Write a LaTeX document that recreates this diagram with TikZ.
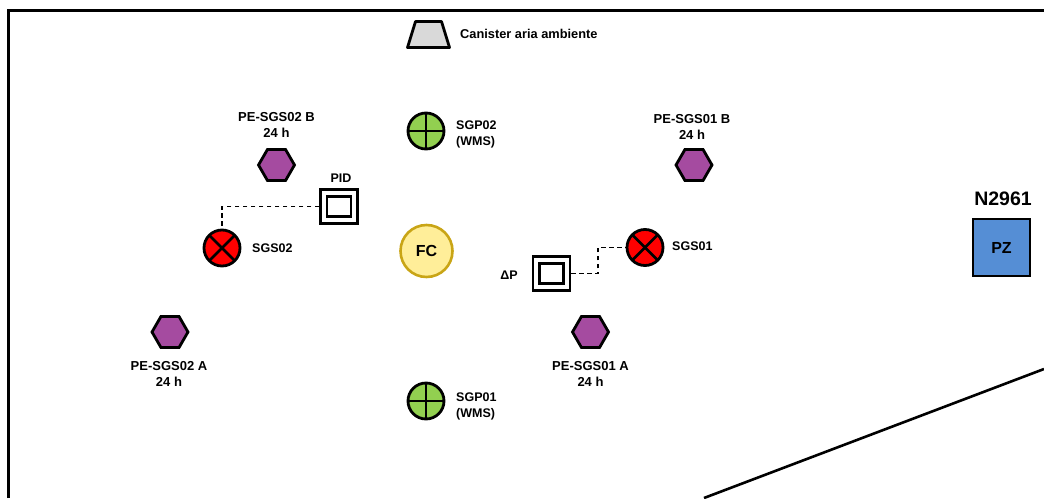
\documentclass[tikz,border=0pt]{standalone}
\usepackage{fontspec}
\setmainfont{Liberation Sans}
\usetikzlibrary{shapes.geometric}
\definecolor{hexfill}{HTML}{A54BA0}
\definecolor{xred}{HTML}{FF0000}
\definecolor{sgpgreen}{HTML}{92D050}
\definecolor{fcfill}{HTML}{FFEE99}
\definecolor{fcline}{HTML}{C9A516}
\definecolor{pzblue}{HTML}{558ED5}
\definecolor{cangray}{HTML}{D9D9D9}
\tikzset{
  lbl/.style={font=\fontsize{12.5}{16}\selectfont\bfseries,align=center,inner sep=0pt},
  lbll/.style={lbl,align=left,anchor=west},
  pelbl/.style={lbl,font=\fontsize{13}{16}\selectfont\bfseries},
  hexa/.style={draw,line width=2.8pt,fill=hexfill,regular polygon,regular polygon sides=6,minimum size=36pt,inner sep=0pt},
  xcirc/.style={draw,line width=2.8pt,circle,fill=xred,minimum size=36pt,inner sep=0pt,
    path picture={\draw[line width=2.8pt] (path picture bounding box.center)++(45:18pt)--++(225:36pt);
    \draw[line width=2.8pt] (path picture bounding box.center)++(135:18pt)--++(315:36pt);}},
  pcirc/.style={draw,line width=2.8pt,circle,fill=sgpgreen,minimum size=36pt,inner sep=0pt,
    path picture={\draw[line width=2.8pt] (path picture bounding box.north)--(path picture bounding box.south);
    \draw[line width=2.8pt] (path picture bounding box.west)--(path picture bounding box.east);}},
  outerbox/.style={draw,line width=2.05pt,fill=white,minimum width=37pt,minimum height=34pt,inner sep=0pt},
  innerbox/.style={draw,line width=2.05pt,fill=white,minimum width=24pt,minimum height=20pt,inner sep=0pt},
  link/.style={line width=1.4pt,dash pattern=on 4.5pt off 3.5pt},
  border/.style={line width=3pt}
}
\begin{document}
\begin{tikzpicture}[x=1pt,y=-1pt]
\useasboundingbox (0,0) rectangle (1044,498);
\coordinate (fb) at (8.5,498);
\coordinate (fk) at (8.5,10.5);
\coordinate (fr) at (1044,10.5);
\draw[border,line join=miter] (fb)--(fk)--(fr);
\coordinate (la) at (704,498);
\coordinate (lb) at (1044,369);
\draw[line width=2.6pt] (la)--(lb);

\draw[line width=2.8pt,fill=cangray,line join=round] (415.5,21.5)--(441.5,21.5)--(449.5,47.5)--(407.5,47.5)--cycle;
\node[lbl,anchor=west,font=\fontsize{12.8}{15}\selectfont\bfseries] (canl) at (460,33.5) {Canister aria ambiente};

\node[pcirc] (sgp2) at (426,131) {};
\node[lbll] (sgp2l) at (456,134) {SGP02\\(WMS)};
\node[pcirc] (sgp1) at (426,401) {};
\node[lbll] (sgp1l) at (456,406) {SGP01\\(WMS)};

\node[hexa] (h2b) at (276.5,165) {};
\node[pelbl] (h2bl) at (276.5,124.5) {PE-SGS02 B\\24 h};
\node[hexa] (h1b) at (694,165) {};
\node[pelbl] (h1bl) at (692,126.5) {PE-SGS01 B\\24 h};
\node[hexa] (h2a) at (170,332) {};
\node[pelbl] (h2al) at (169,373.5) {PE-SGS02 A\\24 h};
\node[hexa] (h1a) at (590.5,332) {};
\node[pelbl] (h1al) at (590.5,373.5) {PE-SGS01 A\\24 h};

\node[xcirc] (s2) at (222,248) {};
\node[lbl,anchor=west] (s2l) at (252,248.5) {SGS02};
\node[xcirc] (s1) at (645,247.5) {};
\node[lbl,anchor=west] (s1l) at (672,246.5) {SGS01};

\node[outerbox] (pid) at (339,206.5) {};
\node[innerbox] at (339,206.5) {};
\node[lbl] (pidl) at (341,178) {PID};
\node[outerbox] (dp) at (551.5,273.5) {};
\node[innerbox] at (551.5,273.5) {};
\node[lbl,anchor=east] (dpl) at (518,275.5) {ΔP};

\draw[link] (pid.west) -| (s2.north);
\coordinate (k1) at (598,260);
\draw[link] (dp.east) -- (k1 |- dp.east) -- (k1 |- s1.west) -- (s1.west);

\node[draw=fcline,line width=2.6pt,circle,fill=fcfill,minimum size=52pt,inner sep=0pt,
  font=\fontsize{16}{18}\selectfont\bfseries] (fc) at (426.5,251) {FC};

\node[draw,line width=2.8pt,fill=pzblue,minimum width=57pt,minimum height=57pt,inner sep=0pt,
  font=\fontsize{16}{18}\selectfont\bfseries] (pz) at (1001.5,247.5) {PZ};
\node[lbl,font=\fontsize{19.5}{22}\selectfont\bfseries] (n) at (1003,198.5) {N2961};
\end{tikzpicture}
\end{document}
